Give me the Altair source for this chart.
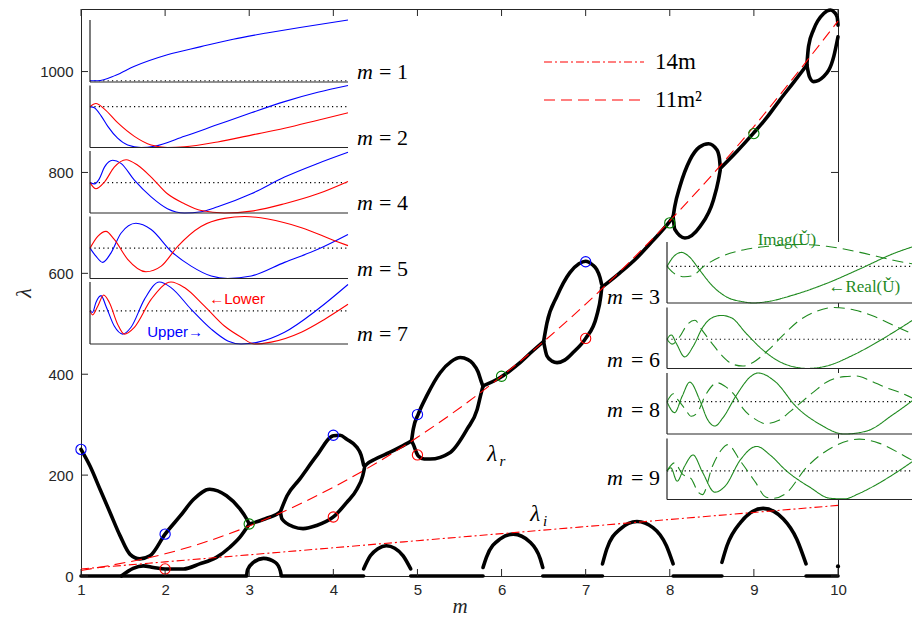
import altair as alt
import pandas as pd

W, H = 757, 567

# ---------------- main axes values ----------------
X_TICKS = [1, 2, 3, 4, 5, 6, 7, 8, 9, 10]
Y_TICKS = [0, 200, 400, 600, 800, 1000]

# ---------------- lambda_r branches (m, lambda) ----------------
LR_A = [(1.0, 251), (1.107, 218), (1.226, 172), (1.345, 126), (1.464, 80), (1.583, 43), (1.70, 34),
        (1.82, 40), (2.0, 83), (2.18, 119), (2.34, 152), (2.53, 172), (2.73, 159), (2.89, 133),
        (2.97, 113), (3.0, 103)]
LR_B = [(1.48, 0), (1.62, 15), (1.74, 20), (1.86, 17), (2.0, 14), (2.22, 14), (2.41, 24), (2.61, 37),
        (2.77, 57), (2.89, 77), (3.0, 103)]
LR_C = [(3.0, 103), (3.1, 108), (3.2, 114), (3.3, 120), (3.37, 127)]
LR_D_UP = [(3.37, 127), (3.45, 159), (3.60, 192), (3.80, 238), (4.0, 278), (4.08, 279), (4.16, 271),
           (4.28, 255), (4.33, 240), (4.36, 220)]
LR_D_LO = [(3.37, 127), (3.39, 113), (3.52, 98), (3.64, 94), (3.80, 100), (4.0, 117), (4.16, 146),
           (4.28, 172), (4.35, 199), (4.37, 214)]
LR_E = [(4.37, 217), (4.40, 222), (4.5, 232), (4.67, 245), (4.8, 256), (4.93, 268)]
LR_F_UP = [(4.93, 268), (4.95, 291), (5.01, 321), (5.11, 357), (5.27, 403), (5.40, 425), (5.51, 433),
           (5.60, 429), (5.66, 421), (5.72, 405), (5.76, 385), (5.78, 376)]
LR_F_LO = [(4.93, 268), (4.95, 261), (5.01, 238), (5.08, 232), (5.15, 232), (5.39, 245), (5.59, 291),
           (5.71, 330), (5.76, 364), (5.78, 376)]
LR_G = [(5.78, 377), (5.98, 393), (6.1, 407), (6.22, 423), (6.35, 443), (6.50, 465)]
LR_H_UP = [(6.50, 465), (6.54, 502), (6.66, 555), (6.81, 601), (6.92, 619), (7.0, 624), (7.08, 617),
           (7.13, 608), (7.17, 592), (7.19, 578)]
LR_H_LO = [(6.50, 465), (6.54, 436), (6.60, 426), (6.66, 423), (6.75, 428), (6.85, 443), (7.0, 471),
           (7.13, 515), (7.18, 555), (7.19, 570)]
LR_I = [(7.19, 572), (7.4, 600), (7.61, 631), (7.8, 665), (8.0, 703), (8.04, 712)]
LR_J_UP = [(8.04, 712), (8.06, 733), (8.12, 772), (8.24, 825), (8.35, 850), (8.46, 857), (8.56, 845),
           (8.59, 828), (8.60, 810)]
LR_J_LO = [(8.04, 712), (8.06, 687), (8.18, 670), (8.36, 693), (8.52, 746), (8.58, 786), (8.60, 805)]
LR_K = [(8.60, 808), (8.8, 842), (8.99, 877), (9.15, 908), (9.31, 944), (9.47, 978), (9.63, 1013)]
LR_L_UP = [(9.63, 1013), (9.65, 1050), (9.71, 1083), (9.83, 1115), (9.91, 1122), (9.96, 1117),
           (9.99, 1108), (10.0, 1092)]
LR_L_LO = [(9.63, 1013), (9.66, 990), (9.71, 980), (9.83, 990), (9.95, 1030), (10.0, 1069)]

# ---------------- lambda_i (m, lambda) ----------------
LI_Z1 = [(1.0, 0), (2.97, 0)]
LI_Z2 = [(3.38, 0), (4.36, 0)]
LI_Z3 = [(4.92, 0), (5.78, 0)]
LI_Z4 = [(6.49, 0), (7.20, 0)]
LI_Z5 = [(8.04, 0), (8.62, 0)]
LI_Z6 = [(9.62, 0), (10.0, 0)]
LI_A1 = [(2.97, 2), (2.98, 12), (3.05, 27), (3.17, 35), (3.31, 27), (3.37, 10), (3.38, 2)]
LI_A2 = [(4.36, 14), (4.44, 40), (4.53, 54), (4.63, 60), (4.73, 55), (4.83, 40), (4.92, 14)]
LI_A3 = [(5.78, 17), (5.82, 37), (5.98, 73), (6.14, 83), (6.34, 67), (6.46, 34), (6.49, 17)]
LI_A4 = [(7.20, 24), (7.25, 53), (7.41, 93), (7.61, 108), (7.80, 96), (7.96, 60), (8.04, 24)]
LI_A5 = [(8.62, 27), (8.68, 60), (8.84, 106), (9.11, 134), (9.35, 113), (9.51, 73), (9.62, 24)]
LI_END = [(10.0, 19)]

# ---------------- reference curves ----------------
REF_M = [1, 2, 3, 4, 5, 6, 7, 8, 9, 10]
REF_14M = [14, 28, 42, 56, 70, 84, 98, 112, 126, 140]
REF_11M2 = [11, 44, 99, 176, 275, 396, 539, 704, 891, 1100]

# ---------------- circled points ----------------
BLUE_PTS = [(1, 251), (2, 83), (4, 279), (5, 320), (7, 623)]
RED_PTS = [(2, 14), (4, 117), (5, 240), (7, 471)]
GREEN_PTS = [(3, 103), (6, 396), (8, 700), (9, 877)]

# ---------------- inset profiles (t, value in panel units 0..1) ----------------
L1_UPPER = [(0, 0.02), (0.03, 0.02), (0.10, 0.11), (0.17, 0.25), (0.30, 0.44), (0.43, 0.57),
            (0.555, 0.69), (0.685, 0.79), (0.814, 0.88), (1.0, 1.0)]
L2_UPPER = [(0, 0.66), (0.017, 0.64), (0.043, 0.51), (0.069, 0.34), (0.107, 0.15), (0.146, 0.04),
            (0.198, 0.0), (0.25, 0.02), (0.366, 0.18), (0.495, 0.37), (0.625, 0.56), (0.754, 0.74),
            (0.883, 0.89), (1.0, 1.0)]
L2_LOWER = [(0, 0.66), (0.023, 0.71), (0.056, 0.62), (0.107, 0.40), (0.172, 0.18), (0.237, 0.04),
            (0.30, 0.0), (0.366, 0.01), (0.495, 0.09), (0.625, 0.20), (0.754, 0.31), (0.883, 0.44),
            (1.0, 0.56)]
L4_UPPER = [(0, 0.49), (0.017, 0.47), (0.036, 0.55), (0.056, 0.74), (0.088, 0.85), (0.12, 0.80),
            (0.172, 0.53), (0.237, 0.26), (0.30, 0.07), (0.366, 0.0), (0.431, 0.02), (0.495, 0.10),
            (0.625, 0.31), (0.754, 0.58), (0.883, 0.80), (1.0, 0.98)]
L4_LOWER = [(0, 0.49), (0.023, 0.39), (0.056, 0.50), (0.094, 0.74), (0.14, 0.86), (0.185, 0.77),
            (0.237, 0.58), (0.30, 0.31), (0.366, 0.15), (0.431, 0.04), (0.521, 0.0), (0.625, 0.03),
            (0.754, 0.15), (0.883, 0.31), (1.0, 0.51)]
L5_UPPER = [(0, 0.49), (0.023, 0.36), (0.049, 0.26), (0.081, 0.41), (0.12, 0.73), (0.178, 0.89),
            (0.237, 0.79), (0.314, 0.44), (0.392, 0.20), (0.47, 0.04), (0.534, 0.0), (0.625, 0.04),
            (0.754, 0.26), (0.883, 0.47), (1.0, 0.71)]
L5_LOWER = [(0, 0.49), (0.03, 0.68), (0.062, 0.76), (0.094, 0.63), (0.146, 0.31), (0.217, 0.11),
            (0.276, 0.20), (0.34, 0.52), (0.43, 0.84), (0.521, 0.97), (0.599, 1.0), (0.69, 0.96),
            (0.82, 0.82), (0.948, 0.61), (1.0, 0.53)]
L7_UPPER = [(0, 0.53), (0.01, 0.51), (0.023, 0.67), (0.043, 0.78), (0.062, 0.61), (0.094, 0.29),
            (0.127, 0.16), (0.159, 0.27), (0.211, 0.72), (0.269, 1.0), (0.314, 0.91), (0.392, 0.56),
            (0.47, 0.24), (0.534, 0.05), (0.586, 0.0), (0.651, 0.03), (0.754, 0.19), (0.883, 0.56),
            (1.0, 0.96)]
L7_LOWER = [(0, 0.53), (0.01, 0.47), (0.030, 0.61), (0.053, 0.79), (0.075, 0.67), (0.107, 0.32),
            (0.133, 0.16), (0.172, 0.27), (0.237, 0.72), (0.314, 1.0), (0.366, 0.91), (0.444, 0.61),
            (0.521, 0.29), (0.586, 0.11), (0.638, 0.0), (0.702, 0.03), (0.819, 0.19), (0.91, 0.40),
            (1.0, 0.64)]

R3_REAL = [(0, 0.60), (0.024, 0.75), (0.057, 0.83), (0.090, 0.75), (0.129, 0.54), (0.182, 0.27),
           (0.235, 0.10), (0.301, 0.02), (0.34, 0.0), (0.393, 0.02), (0.499, 0.13), (0.63, 0.32),
           (0.763, 0.56), (0.895, 0.81), (1.0, 0.96)]
R3_IMAG = [(0, 0.60), (0.03, 0.48), (0.07, 0.43), (0.103, 0.45), (0.142, 0.59), (0.208, 0.75),
           (0.301, 0.87), (0.433, 0.94), (0.525, 0.96), (0.631, 0.93), (0.763, 0.83), (0.895, 0.70),
           (1.0, 0.62)]
R6_REAL = [(0, 0.48), (0.017, 0.55), (0.037, 0.41), (0.070, 0.19), (0.103, 0.36), (0.142, 0.68),
           (0.182, 0.84), (0.215, 0.87), (0.255, 0.83), (0.314, 0.57), (0.38, 0.30), (0.446, 0.11),
           (0.525, 0.01), (0.551, 0.0), (0.63, 0.04), (0.736, 0.22), (0.842, 0.46), (0.921, 0.66),
           (1.0, 0.87)]
R6_IMAG = [(0, 0.48), (0.02, 0.40), (0.05, 0.52), (0.08, 0.72), (0.11, 0.79), (0.14, 0.62),
           (0.18, 0.40), (0.22, 0.20), (0.26, 0.07), (0.30, 0.04), (0.34, 0.10), (0.40, 0.30),
           (0.46, 0.55), (0.52, 0.78), (0.58, 0.92), (0.66, 1.0), (0.74, 0.96), (0.815, 0.86),
           (0.92, 0.66), (1.0, 0.52)]
R8_REAL = [(0, 0.53), (0.03, 0.35), (0.06, 0.62), (0.09, 0.85), (0.13, 0.55), (0.16, 0.24),
           (0.189, 0.13), (0.22, 0.26), (0.275, 0.64), (0.33, 0.94), (0.36, 1.0), (0.43, 0.85),
           (0.51, 0.45), (0.604, 0.16), (0.70, 0.0), (0.79, 0.05), (0.894, 0.32), (1.0, 0.64)]
R8_IMAG = [(0, 0.53), (0.025, 0.66), (0.045, 0.55), (0.07, 0.42), (0.096, 0.29), (0.12, 0.35),
           (0.15, 0.62), (0.20, 0.84), (0.23, 0.78), (0.27, 0.62), (0.30, 0.42), (0.35, 0.24),
           (0.39, 0.17), (0.44, 0.22), (0.49, 0.38), (0.58, 0.69), (0.63, 0.85), (0.70, 0.94),
           (0.75, 0.95), (0.80, 0.88), (0.86, 0.77), (0.92, 0.68), (1.0, 0.53)]
R9_REAL = [(0, 0.47), (0.015, 0.52), (0.04, 0.30), (0.07, 0.55), (0.103, 0.73), (0.14, 0.45),
           (0.189, 0.12), (0.23, 0.22), (0.29, 0.65), (0.354, 0.87), (0.41, 0.72), (0.472, 0.47),
           (0.565, 0.20), (0.644, 0.02), (0.70, 0.01), (0.76, 0.10), (0.83, 0.25), (0.894, 0.41),
           (1.0, 0.71)]
R9_IMAG = [(0, 0.47), (0.03, 0.60), (0.06, 0.42), (0.096, 0.34), (0.123, 0.12), (0.14, 0.08),
           (0.18, 0.55), (0.22, 0.84), (0.24, 0.90), (0.29, 0.63), (0.35, 0.28), (0.39, 0.04),
           (0.42, 0.02), (0.47, 0.10), (0.55, 0.52), (0.66, 0.87), (0.76, 0.99), (0.84, 0.92),
           (0.94, 0.71), (1.0, 0.57)]

# dotted zero level of each inset (panel units)
ZERO_LEFT = {"1": 0.02, "2": 0.66, "4": 0.49, "5": 0.49, "7": 0.535}
ZERO_RIGHT = {"3": 0.60, "6": 0.48, "8": 0.53, "9": 0.47}

FRAME = "#262626"
SERIF = "Liberation Serif"
SANS = "Liberation Sans"
GREEN = "#1f8a1f"


def seg_df(named):
    rows = []
    for name, pts in named:
        for m, l in pts:
            rows.append({"m": m, "lam": l, "seg": name})
    return pd.DataFrame(rows)


def XS():
    return alt.Scale(domain=[1, 10], nice=False, zero=False)


def YS():
    return alt.Scale(domain=[0, 1124], nice=False, zero=False)


x_axis = alt.Axis(values=X_TICKS, ticks=False, domain=False, grid=False, labelFont=SANS,
                  labelFontSize=15, labelColor=FRAME, labelPadding=6, labelFlush=False,
                  labelOverlap=False, format="d", title="m", titleFont=SERIF,
                  titleFontStyle="italic", titleFontWeight="normal", titleFontSize=21,
                  titleColor=FRAME, titleBaseline="alphabetic", titleY=36)
y_axis = alt.Axis(values=Y_TICKS, ticks=False, domain=False, grid=False, labelFont=SANS,
                  labelFontSize=15, labelColor=FRAME, labelPadding=8, labelOverlap=False,
                  format="d", title="λ", titleFont=SERIF, titleFontStyle="italic",
                  titleFontWeight="normal", titleFontSize=22, titleColor=FRAME,
                  titleBaseline="middle", titleX=-58)


def mx(axis=None):
    return alt.X("m:Q", scale=XS(), axis=axis)


def my(axis=None):
    return alt.Y("lam:Q", scale=YS(), axis=axis)


curves = seg_df([("A", LR_A), ("B", LR_B), ("C", LR_C), ("Du", LR_D_UP), ("Dl", LR_D_LO),
                 ("E", LR_E), ("Fu", LR_F_UP), ("Fl", LR_F_LO), ("G", LR_G), ("Hu", LR_H_UP),
                 ("Hl", LR_H_LO), ("I", LR_I), ("Ju", LR_J_UP), ("Jl", LR_J_LO), ("K", LR_K),
                 ("Lu", LR_L_UP), ("Ll", LR_L_LO),
                 ("z1", LI_Z1), ("z2", LI_Z2), ("z3", LI_Z3), ("z4", LI_Z4), ("z5", LI_Z5),
                 ("z6", LI_Z6), ("a1", LI_A1), ("a2", LI_A2), ("a3", LI_A3), ("a4", LI_A4),
                 ("a5", LI_A5)])

layers = []

layers.append(alt.Chart(curves).mark_line(
    color="black", strokeWidth=3.6, interpolate="monotone", strokeCap="round", strokeJoin="round"
).encode(x=mx(x_axis), y=my(y_axis), detail="seg:N"))

layers.append(alt.Chart(seg_df([("end", LI_END)])).mark_circle(color="black", size=18, opacity=1).encode(
    x=mx(), y=my()))

ref_df = pd.DataFrame({
    "m": REF_M + REF_M,
    "lam": REF_14M + REF_11M2,
    "which": ["14m"] * len(REF_M) + ["11m²"] * len(REF_M),
})
layers.append(alt.Chart(ref_df).mark_line(color="#ff0000", strokeWidth=1.1, interpolate="natural").encode(
    x=mx(), y=my(),
    strokeDash=alt.StrokeDash(
        "which:N",
        scale=alt.Scale(domain=["14m", "11m²"], range=[[8, 3, 2, 3], [11, 6]]),
        legend=alt.Legend(orient="none", legendX=462, legendY=43, title=None, symbolType="stroke",
                          symbolSize=10000, symbolStrokeWidth=1.2, symbolStrokeColor="#ff0000",
                          clipHeight=20, rowPadding=15, labelOffset=10, labelFont=SERIF,
                          labelFontSize=23, labelColor="black"),
    ),
))

pts_df = pd.DataFrame(
    [{"m": m, "lam": l, "c": "blue"} for m, l in BLUE_PTS]
    + [{"m": m, "lam": l, "c": "red"} for m, l in RED_PTS]
    + [{"m": m, "lam": l, "c": "green"} for m, l in GREEN_PTS]
)
layers.append(alt.Chart(pts_df).mark_point(shape="circle", filled=False, size=105, strokeWidth=1.1,
                                           opacity=1).encode(
    x=mx(), y=my(),
    color=alt.Color("c:N", scale=alt.Scale(domain=["blue", "red", "green"],
                                           range=["#0000ff", "#ff0000", "#008000"]), legend=None),
))

xt_df = pd.DataFrame({"m": X_TICKS})
yt_df = pd.DataFrame({"lam": Y_TICKS})
TL = 7
layers.append(alt.Chart(xt_df).mark_rule(color=FRAME, strokeWidth=1).encode(
    x=mx(), y=alt.value(H), y2=alt.value(H - TL)))
layers.append(alt.Chart(xt_df).mark_rule(color=FRAME, strokeWidth=1).encode(
    x=mx(), y=alt.value(0), y2=alt.value(TL)))
layers.append(alt.Chart(yt_df).mark_rule(color=FRAME, strokeWidth=1).encode(
    y=my(), x=alt.value(0), x2=alt.value(TL)))
layers.append(alt.Chart(yt_df).mark_rule(color=FRAME, strokeWidth=1).encode(
    y=my(), x=alt.value(W), x2=alt.value(W - TL)))

lab_df = pd.DataFrame({"m": [5.89, 6.40], "lam": [241, 123], "sub": ["r", "i"]})
layers.append(alt.Chart(lab_df).mark_text(text="λ", font=SERIF, fontStyle="italic", fontSize=23,
                                          baseline="middle", align="center", color="black").encode(
    x=mx(), y=my()))
layers.append(alt.Chart(lab_df).mark_text(font=SERIF, fontStyle="italic", fontSize=15, dx=10, dy=7,
                                          baseline="middle", align="center", color="black").encode(
    x=mx(), y=my(), text="sub:N"))


def panel(series, xr, yr, zero, cdom, crng, label, side, label_dy, dashes=None, notes=()):
    """Build the layers of one inset; its scales map [0, 1] onto the pixel box xr x yr."""
    x0, x1 = xr
    yb, yt = yr
    xdom = [-x0 / (x1 - x0), (W - x0) / (x1 - x0)]
    ydom = [(yb - H) / (yb - yt), yb / (yb - yt)]

    def sx(f):
        return alt.X(f, scale=alt.Scale(domain=xdom, nice=False, zero=False), axis=None)

    def sy(f):
        return alt.Y(f, scale=alt.Scale(domain=ydom, nice=False, zero=False), axis=None)

    rows = []
    for name, pts in series:
        for t, v in pts:
            rows.append({"t": t, "v": v, "s": name})
    df = pd.DataFrame(rows)
    fr = pd.DataFrame({"t0": [0.0], "t1": [1.0], "lo": [0.0], "hi": [1.0], "z": [zero]})
    out = []
    out.append(alt.Chart(fr).mark_rect(fill="white").encode(
        x=sx("t0:Q"), x2=alt.X2("t1"), y=sy("lo:Q"), y2=alt.Y2("hi")))
    out.append(alt.Chart(fr).mark_rule(color="black", strokeWidth=1.1, strokeDash=[1.2, 3.2]).encode(
        x=sx("t0:Q"), x2=alt.X2("t1"), y=sy("z:Q")))
    enc = dict(x=sx("t:Q"), y=sy("v:Q"),
               color=alt.Color("s:N", scale=alt.Scale(domain=cdom, range=crng), legend=None))
    if dashes is not None:
        enc["strokeDash"] = alt.StrokeDash("s:N", scale=alt.Scale(domain=cdom, range=dashes), legend=None)
    out.append(alt.Chart(df).mark_line(strokeWidth=1.1, interpolate="monotone").encode(**enc))
    out.append(alt.Chart(fr).mark_rule(color=FRAME, strokeWidth=1.2).encode(
        x=sx("t0:Q"), y=sy("lo:Q"), y2=alt.Y2("hi")))
    out.append(alt.Chart(fr).mark_rule(color=FRAME, strokeWidth=1.2).encode(
        x=sx("t0:Q"), x2=alt.X2("t1"), y=sy("lo:Q")))
    if side == "right":
        lx, dxm, dxe = "t1:Q", 9, 31
    else:
        lx, dxm, dxe = "t0:Q", -60, -36
    out.append(alt.Chart(fr).mark_text(text="m", font=SERIF, fontStyle="italic", fontSize=22, align="left",
                                       baseline="middle", dx=dxm, dy=label_dy, color="black").encode(
        x=sx(lx), y=sy("lo:Q")))
    out.append(alt.Chart(fr).mark_text(text="= " + label, font=SERIF, fontSize=22, align="left",
                                       baseline="middle", dx=dxe, dy=label_dy, color="black").encode(
        x=sx(lx), y=sy("lo:Q")))
    if notes:
        ndf = pd.DataFrame([{"txt": a, "t": b, "v": c, "col": d} for a, b, c, d in notes])
        out.append(alt.Chart(ndf).mark_text(font=notes_font[cdom[0]], fontSize=notes_size[cdom[0]],
                                            align="center", baseline="middle").encode(
            x=sx("t:Q"), y=sy("v:Q"), text="txt:N",
            color=alt.Color("col:N", scale=None, legend=None)))
    return out


notes_font = {"upper": SANS, "real": SERIF}
notes_size = {"upper": 15, "real": 17}

LX = [9, 267]
RX = [586, 839]
LH = 62
RH = 61
left_tops = [11, 76.5, 142, 207.5, 273]
right_tops = [233, 298.5, 364, 429.5]
BR = ["#0000ff", "#ff0000"]
GR = [GREEN, GREEN]
DASH = [[1, 0], [11, 6]]

layers += panel([("upper", L1_UPPER)], LX, [left_tops[0] + LH, left_tops[0]], ZERO_LEFT["1"],
                ["upper", "lower"], BR, "1", "right", -10)
layers += panel([("upper", L2_UPPER), ("lower", L2_LOWER)], LX, [left_tops[1] + LH, left_tops[1]],
                ZERO_LEFT["2"], ["upper", "lower"], BR, "2", "right", -10)
layers += panel([("upper", L4_UPPER), ("lower", L4_LOWER)], LX, [left_tops[2] + LH, left_tops[2]],
                ZERO_LEFT["4"], ["upper", "lower"], BR, "4", "right", -10)
layers += panel([("upper", L5_UPPER), ("lower", L5_LOWER)], LX, [left_tops[3] + LH, left_tops[3]],
                ZERO_LEFT["5"], ["upper", "lower"], BR, "5", "right", -10)
layers += panel([("upper", L7_UPPER), ("lower", L7_LOWER)], LX, [left_tops[4] + LH, left_tops[4]],
                ZERO_LEFT["7"], ["upper", "lower"], BR, "7", "right", -10,
                notes=[("←Lower", 0.57, 0.72, "#ff0000"), ("Upper→", 0.33, 0.19, "#0000ff")])
layers += panel([("real", R3_REAL), ("imag", R3_IMAG)], RX, [right_tops[0] + RH, right_tops[0]],
                ZERO_RIGHT["3"], ["real", "imag"], GR, "3", "left", -6, dashes=DASH,
                notes=[("Imag(Ǔ)", 0.474, 1.03, GREEN), ("←Real(Ǔ)", 0.78, 0.26, GREEN)])
layers += panel([("real", R6_REAL), ("imag", R6_IMAG)], RX, [right_tops[1] + RH, right_tops[1]],
                ZERO_RIGHT["6"], ["real", "imag"], GR, "6", "left", -9, dashes=DASH)
layers += panel([("real", R8_REAL), ("imag", R8_IMAG)], RX, [right_tops[2] + RH, right_tops[2]],
                ZERO_RIGHT["8"], ["real", "imag"], GR, "8", "left", -24, dashes=DASH)
layers += panel([("real", R9_REAL), ("imag", R9_IMAG)], RX, [right_tops[3] + RH, right_tops[3]],
                ZERO_RIGHT["9"], ["real", "imag"], GR, "9", "left", -22, dashes=DASH)

chart = alt.layer(*layers).resolve_scale(
    x="independent", y="independent", color="independent", strokeDash="independent"
).properties(
    width=W, height=H,
    padding={"left": 73, "top": 1, "right": 74, "bottom": 42},
    autosize=alt.AutoSizeParams(type="none"),
).configure_view(stroke=FRAME, strokeWidth=1)

chart.save("out.html", embed_options={"renderer": "svg", "actions": False})
